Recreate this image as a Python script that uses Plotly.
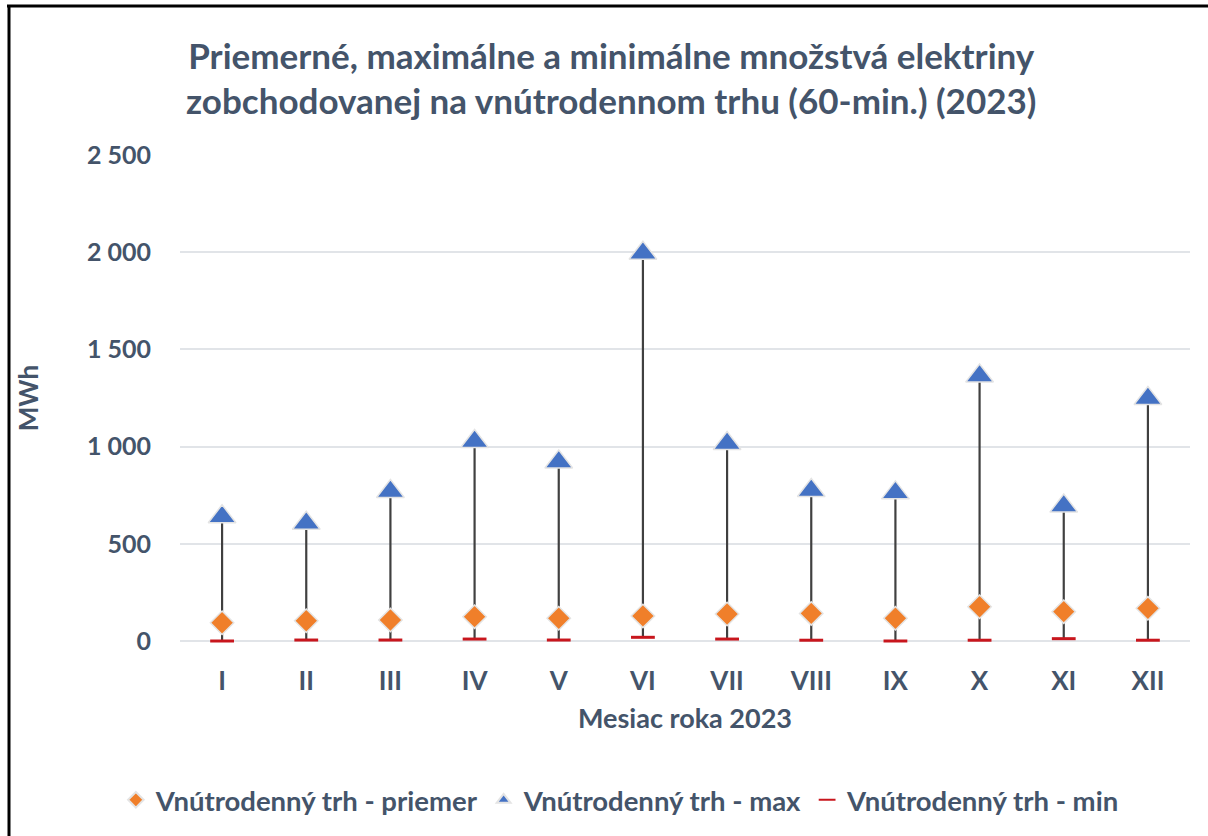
import plotly.graph_objects as go

months = ["I", "II", "III", "IV", "V", "VI", "VII", "VIII", "IX", "X", "XI", "XII"]
avg_vals = [94, 104, 108, 125, 117, 129, 139, 142, 117, 176, 151, 168]
max_vals = [639, 606, 769, 1026, 921, 1995, 1016, 774, 762, 1363, 694, 1247]
min_vals = [0, 5, 5, 10, 5, 19, 10, 4, 0, 4, 12, 4]

y_ticks = [0, 500, 1000, 1500, 2000, 2500]

title_text = ("Priemerné, maximálne a minimálne množstvá elektriny<br>"
              "zobchodovanej na vnútrodennom trhu (60-min.) (2023)")
x_title = "Mesiac roka 2023"
y_title = "MWh"
names = ["Vnútrodenný trh - priemer", "Vnútrodenný trh - max", "Vnútrodenný trh - min"]

TXT = "#44546A"
FONT = "Lato"

# high-low connecting lines built from min/max arrays
hl_x, hl_y = [], []
for m, lo, hi in zip(months, min_vals, max_vals):
    hl_x += [m, m, None]
    hl_y += [lo, hi, None]

fig = go.Figure()
fig.add_trace(go.Scatter(x=hl_x, y=hl_y, mode="lines",
                         line=dict(color="#404040", width=2.2),
                         showlegend=False, hoverinfo="skip", cliponaxis=False))
fig.add_trace(go.Scatter(x=months, y=avg_vals, mode="markers", name=names[0],
                         marker=dict(symbol="diamond", size=18, color="#F07F2A",
                                     line=dict(color="#E4E4E4", width=1.5)),
                         cliponaxis=False))
fig.add_trace(go.Scatter(x=months, y=max_vals, mode="markers", name=names[1],
                         marker=dict(symbol="triangle-up", size=24, color="#4472C4",
                                     line=dict(color="#E4E4E4", width=1.5)),
                         cliponaxis=False))
fig.add_trace(go.Scatter(x=months, y=min_vals, mode="markers", name=names[2],
                         marker=dict(symbol="line-ew", size=17, color="#C8161D",
                                     line=dict(color="#C8161D", width=3)),
                         cliponaxis=False))

fig.update_layout(
    width=1208, height=836,
    margin=dict(l=180, r=18, t=155, b=195, autoexpand=False),
    paper_bgcolor="white", plot_bgcolor="white",
    separators=", ",
    font=dict(family=FONT, color=TXT, size=22),
    title=dict(text=title_text, x=0.506, xref="container", xanchor="center",
               y=1 - 68.6 / 836, yref="container", yanchor="middle",
               font=dict(family=FONT, size=35, color=TXT, weight="bold")),
    showlegend=True,
    legend=dict(orientation="h", x=0.436, xanchor="center", y=-0.327, yanchor="middle",
                font=dict(family=FONT, size=27.5, color=TXT, weight="bold"),
                itemsizing="constant", itemwidth=30, tracegroupgap=0,
                bgcolor="rgba(0,0,0,0)"),
    xaxis=dict(type="category", categoryorder="array", categoryarray=months,
               range=[-0.5, 11.5], showgrid=False, zeroline=False, showline=False,
               ticks="", automargin=False, ticklabelstandoff=22,
               tickfont=dict(family=FONT, size=26, color=TXT, weight="bold"),
               title=dict(text=x_title, standoff=14,
                          font=dict(family=FONT, size=27, color=TXT, weight="bold"))),
    yaxis=dict(range=[0, 2500], tickvals=y_ticks, tickformat=",d",
               showgrid=True, gridcolor="#E1E4E8", gridwidth=1.5,
               zeroline=True, zerolinecolor="#E1E4E8", zerolinewidth=1.5,
               showline=False, ticks="", ticklabelstandoff=28, automargin=False,
               tickfont=dict(family=FONT, size=25, color=TXT, weight="bold"),
               title=dict(text=y_title, standoff=40,
                          font=dict(family=FONT, size=26, color=TXT, weight="bold"))),
    shapes=[
        dict(type="line", xref="paper", yref="paper",
             x0=(7 - 180) / 1010, x1=(1230 - 180) / 1010,
             y0=(641 - 6) / 486, y1=(641 - 6) / 486,
             line=dict(color="black", width=3)),
        dict(type="line", xref="paper", yref="paper",
             x0=(9 - 180) / 1010, x1=(9 - 180) / 1010,
             y0=(641 - 5) / 486, y1=(641 - 860) / 486,
             line=dict(color="black", width=3)),
    ],
)

fig.write_html("out.html", config={"displayModeBar": False},
               post_script="document.body.style.margin='0px';")
